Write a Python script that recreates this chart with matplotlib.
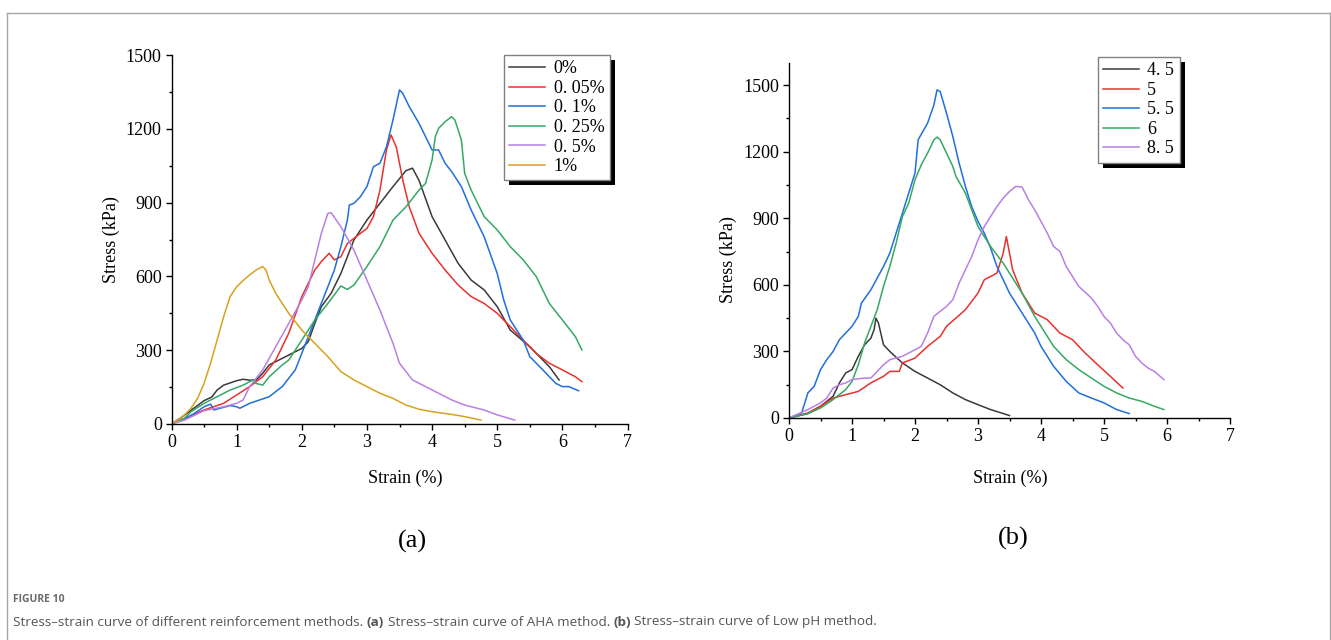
import numpy as np
import matplotlib
matplotlib.use("Agg")
import matplotlib.pyplot as plt
from matplotlib.ticker import MultipleLocator
from matplotlib.patches import Rectangle
from matplotlib.lines import Line2D
from matplotlib.transforms import IdentityTransform

# ---- data (a): AHA method ----
a_labels = ["0%", "0. 05%", "0. 1%", "0. 25%", "0. 5%", "1%"]
a_colors = ["#3a3a3a", "#e8322e", "#1f6fdc", "#35a865", "#b880e2", "#d6a21e"]

a0_x = [0, 0.17, 0.5, 0.62, 0.7, 0.8, 1.0, 1.1, 1.2, 1.3, 1.4, 1.5, 1.7, 2.0, 2.1, 2.2, 2.3, 2.45, 2.6, 2.8, 3.0, 3.2, 3.4, 3.6, 3.7,
        3.8, 4.0, 4.2, 4.4, 4.6, 4.8, 5.0, 5.2, 5.5, 5.8, 5.95]
a0_y = [0, 30, 95, 110, 138, 158, 176, 182, 178, 179, 206, 240, 267, 307, 335, 409, 477, 531, 612, 748, 829, 897, 965, 1030, 1040,
        990, 843, 748, 653, 585, 545, 477, 382, 314, 233, 179]

a1_x = [0, 0.5, 0.8, 1.0, 1.2, 1.4, 1.6, 1.8, 2.0, 2.2, 2.3, 2.42, 2.5, 2.6, 2.7, 2.9, 3.0, 3.1, 3.2, 3.3, 3.37, 3.45, 3.55, 3.65,
        3.8, 4.0, 4.2, 4.4, 4.6, 4.8, 5.0, 5.2, 5.4, 5.6, 5.8, 6.0, 6.2, 6.3]
a1_y = [0, 57, 84, 118, 152, 192, 260, 369, 518, 626, 660, 694, 667, 680, 734, 775, 795, 843, 951, 1114, 1175, 1127, 992, 883,
        775, 694, 626, 565, 518, 490, 450, 396, 341, 287, 247, 220, 192, 172]

a2_x = [0, 0.2, 0.35, 0.5, 0.6, 0.65, 0.9, 1.0, 1.05, 1.2, 1.5, 1.7, 1.9, 2.0, 2.2, 2.4, 2.5, 2.6, 2.7, 2.73, 2.8, 2.9, 3.0, 3.1,
        3.2, 3.3, 3.4, 3.5, 3.55, 3.65, 3.8, 3.9, 4.0, 4.1, 4.2, 4.3, 4.45, 4.6, 4.8, 5.0, 5.1, 5.2, 5.4, 5.5, 5.7, 5.9,
        6.0, 6.1, 6.25]
a2_y = [0, 20, 43, 70, 81, 57, 75, 70, 64, 84, 111, 152, 220, 287, 423, 558, 626, 721, 829, 890, 897, 924, 965, 1046,
        1060, 1127, 1236, 1358, 1344, 1290, 1222, 1168, 1114, 1114, 1060, 1026, 965, 870, 761, 612, 504, 423, 341, 274, 220, 165,
        152, 152, 135]

a3_x = [0, 0.2, 0.3, 0.5, 0.7, 0.9, 1.1, 1.25, 1.3, 1.4, 1.5, 1.7, 1.8, 2.0, 2.2, 2.4, 2.6, 2.7, 2.8, 3.0, 3.2, 3.4, 3.6, 3.8,
        3.9, 4.0, 4.05, 4.1, 4.2, 4.3, 4.35, 4.45, 4.5, 4.6, 4.8, 5.0, 5.2, 5.4, 5.6, 5.8, 6.0, 6.2, 6.3]
a3_y = [0, 23, 50, 84, 111, 138, 158, 179, 165, 158, 192, 240, 260, 341, 423, 490, 561, 547, 565, 640, 721, 829, 883, 951,
        978, 1073, 1168, 1202, 1229, 1249, 1236, 1155, 1019, 951, 843, 789, 721, 667, 599, 490, 423, 355, 301]

a4_x = [0, 0.2, 0.5, 0.8, 1.0, 1.1, 1.2, 1.4, 1.6, 1.8, 2.0, 2.1, 2.2, 2.3, 2.4, 2.45, 2.6, 2.8, 3.0, 3.2, 3.4, 3.5, 3.7,
        3.9, 4.1, 4.3, 4.5, 4.8, 5.0, 5.27]
a4_y = [0, 16, 54, 70, 84, 98, 152, 220, 314, 409, 504, 558, 667, 775, 856, 859, 802, 707, 585, 463, 328, 247, 179,
        152, 125, 98, 77, 57, 37, 16]

a5_x = [0, 0.1, 0.2, 0.3, 0.4, 0.5, 0.6, 0.7, 0.8, 0.9, 1.0, 1.1, 1.2, 1.3, 1.4, 1.45, 1.5, 1.6, 1.7, 1.8, 2.0, 2.2, 2.4,
        2.6, 2.8, 3.0, 3.2, 3.4, 3.6, 3.8, 4.0, 4.3, 4.5, 4.75]
a5_y = [0, 16, 37, 64, 104, 165, 247, 341, 436, 518, 558, 583, 606, 626, 640, 626, 585, 531, 490, 450, 382, 328, 274,
        213, 179, 152, 125, 104, 77, 60, 50, 39, 30, 16]

# ---- data (b): Low pH method ----
b_labels = ["4. 5", "5", "5. 5", "6", "8. 5"]
b_colors = ["#3a3a3a", "#e8322e", "#1f6fdc", "#35a865", "#b880e2"]

b0_x = [0, 0.3, 0.5, 0.7, 0.8, 0.9, 1.0, 1.1, 1.2, 1.3, 1.35, 1.38, 1.42, 1.5, 1.6, 1.8, 2.0, 2.2, 2.4, 2.6, 2.8, 3.0, 3.2, 3.5]
b0_y = [0, 20, 53, 98, 158, 203, 218, 278, 330, 360, 398, 450, 428, 330, 300, 248, 210, 180, 150, 113, 83, 60, 38, 11]

b1_x = [0, 0.3, 0.5, 0.7, 0.9, 1.1, 1.3, 1.5, 1.6, 1.75, 1.8, 2.0, 2.2, 2.4, 2.5, 2.8, 3.0, 3.1, 3.3, 3.4, 3.45, 3.5, 3.55,
        3.7, 3.9, 4.1, 4.3, 4.5, 4.7, 4.9, 5.1, 5.3]
b1_y = [0, 23, 53, 90, 105, 120, 158, 188, 210, 210, 248, 270, 323, 368, 413, 488, 563, 623, 653, 743, 818, 743, 668,
        563, 473, 443, 383, 353, 293, 240, 188, 135]

b2_x = [0, 0.2, 0.25, 0.3, 0.4, 0.5, 0.6, 0.7, 0.8, 1.0, 1.1, 1.15, 1.3, 1.5, 1.6, 1.8, 2.0, 2.05, 2.2, 2.3, 2.35, 2.4, 2.5,
        2.6, 2.7, 2.8, 2.9, 3.0, 3.1, 3.2, 3.3, 3.4, 3.5, 3.6, 3.8, 3.9, 4.0, 4.2, 4.4, 4.6, 4.8, 5.0, 5.2, 5.4]
b2_y = [0, 23, 68, 113, 143, 218, 263, 300, 353, 413, 458, 518, 578, 683, 743, 923, 1104, 1254, 1329, 1411, 1479, 1471, 1374,
        1269, 1149, 1044, 953, 886, 833, 766, 683, 623, 563, 518, 428, 383, 323, 233, 165, 113, 90, 68, 38, 20]

b3_x = [0, 0.3, 0.5, 0.7, 0.9, 1.0, 1.1, 1.2, 1.3, 1.4, 1.5, 1.6, 1.7, 1.8, 1.9, 2.0, 2.1, 2.2, 2.3, 2.35, 2.4, 2.5, 2.6,
        2.65, 2.8, 3.0, 3.2, 3.4, 3.5, 3.7, 3.9, 4.0, 4.2, 4.4, 4.6, 4.8, 5.0, 5.2, 5.4, 5.6, 5.8, 5.95]
b3_y = [0, 20, 45, 83, 128, 165, 240, 338, 413, 488, 593, 683, 788, 908, 968, 1074, 1141, 1194, 1254, 1266, 1254, 1194, 1134,
        1089, 1014, 863, 773, 698, 653, 563, 458, 413, 323, 263, 218, 180, 143, 113, 90, 75, 53, 38]

b4_x = [0, 0.3, 0.5, 0.6, 0.7, 0.8, 0.9, 1.0, 1.2, 1.3, 1.4, 1.5, 1.6, 1.8, 2.0, 2.1, 2.2, 2.3, 2.4, 2.5, 2.6, 2.7, 2.8,
        2.9, 3.0, 3.1, 3.2, 3.3, 3.4, 3.5, 3.6, 3.7, 3.8, 3.9, 4.0, 4.1, 4.2, 4.3, 4.4, 4.5, 4.6, 4.8, 4.9, 5.0, 5.1,
        5.2, 5.3, 5.4, 5.5, 5.6, 5.7, 5.8, 5.95]
b4_y = [0, 38, 68, 90, 135, 150, 158, 173, 180, 180, 210, 240, 263, 278, 308, 323, 383, 458, 481, 503, 533, 608, 668,
        728, 803, 863, 908, 953, 991, 1021, 1044, 1041, 984, 938, 886, 833, 773, 751, 683, 638, 593, 541, 503, 458, 428,
        383, 353, 330, 278, 248, 225, 210, 173]

a_series = [(a0_x, a0_y), (a1_x, a1_y), (a2_x, a2_y), (a3_x, a3_y), (a4_x, a4_y), (a5_x, a5_y)]
b_series = [(b0_x, b0_y), (b1_x, b1_y), (b2_x, b2_y), (b3_x, b3_y), (b4_x, b4_y)]

serif = ["Liberation Serif", "DejaVu Serif"]
plt.rcParams["font.family"] = serif
plt.rcParams["axes.linewidth"] = 1.0

W, H = 1331, 640
fig = plt.figure(figsize=(W / 100, H / 100), dpi=100)


def px_axes(x0, x1, y0, y1):
    # pixel box (left, right, bottom-y, top-y) -> figure fraction
    return [x0 / W, 1 - y0 / H, (x1 - x0) / W, (y0 - y1) / H]


ax_a = fig.add_axes(px_axes(171.5, 627.5, 424, 55))
ax_b = fig.add_axes(px_axes(789, 1230, 418, 63))


def style(ax, ymax):
    ax.set_xlim(0, 7)
    ax.set_ylim(0, ymax)
    ax.patch.set_visible(False)
    for s in ["top", "right"]:
        ax.spines[s].set_visible(False)
    ax.xaxis.set_major_locator(MultipleLocator(1))
    ax.xaxis.set_minor_locator(MultipleLocator(0.5))
    ax.yaxis.set_major_locator(MultipleLocator(300))
    ax.yaxis.set_minor_locator(MultipleLocator(150))
    ax.tick_params(which="major", direction="out", length=4, width=1, labelsize=13, pad=3)
    ax.tick_params(which="minor", direction="out", length=2.5, width=1)
    ax.set_xlabel("Strain (%)", fontsize=13)
    ax.set_ylabel("Stress (kPa)", fontsize=13)


style(ax_a, 1500)
style(ax_b, 1600)

for (x, y), c, lab in zip(a_series, a_colors, a_labels):
    ax_a.plot(x, y, color=c, lw=1.1, label=lab)
for (x, y), c, lab in zip(b_series, b_colors, b_labels):
    ax_b.plot(x, y, color=c, lw=1.1, label=lab)

ax_a.xaxis.set_label_coords(0.512, -0.125)
ax_a.yaxis.set_label_coords(-0.113, 0.5)
ax_b.xaxis.set_label_coords(0.501, -0.146)
ax_b.yaxis.set_label_coords(-0.118, 0.445)

leg_kw = dict(loc="upper left", borderaxespad=0, fancybox=False, framealpha=1, edgecolor="#808080",
              handlelength=2.0, handletextpad=0.45, labelspacing=0.14, borderpad=0.3, prop={"family": serif, "size": 13})
leg_a = ax_a.legend(bbox_to_anchor=(0.729, 1.0), **leg_kw)
leg_b = ax_b.legend(bbox_to_anchor=(0.70, 1.017), **leg_kw)
for lg in (leg_a, leg_b):
    lg.get_frame().set_linewidth(1.0)
    lg.set_zorder(6)

fig.text(412 / W, 1 - 541 / H, "(a)", fontsize=19, ha="center", va="center")
fig.text(1013 / W, 1 - 538 / H, "(b)", fontsize=19, ha="center", va="center")

# outer frame
fc = "#a6a6a6"
fig.add_artist(Line2D([7 / W, 1330 / W], [1 - 12.5 / H, 1 - 12.5 / H], color=fc, lw=1))
fig.add_artist(Line2D([7 / W, 7 / W], [1 - 12.5 / H, 0], color=fc, lw=1))
fig.add_artist(Line2D([1330 / W, 1330 / W], [1 - 12.5 / H, 0], color=fc, lw=1))

fig.canvas.draw()
renderer = fig.canvas.get_renderer()

# legend shadows (solid black, offset down-right)
for ax, lg in ((ax_a, leg_a), (ax_b, leg_b)):
    bb = lg.get_window_extent(renderer)
    sh = Rectangle((bb.x0 + 5, bb.y0 - 5), bb.width, bb.height, transform=IdentityTransform(),
                   facecolor="black", edgecolor="none", zorder=5.5, clip_on=False)
    ax.add_artist(sh)

# caption
cap_font = ["Open Sans", "DejaVu Sans"]
fig.text(13 / W, 1 - 600 / H, "FIGURE 10", fontsize=7.5, fontweight="bold", color="#6a6a6a",
         family=cap_font, va="center", ha="left")

segments = [("Stress–strain curve of different reinforcement methods.", "normal"),
            ("(a)", "bold"),
            ("Stress–strain curve of AHA method.", "normal"),
            ("(b)", "bold"),
            ("Stress–strain curve of Low pH method.", "normal")]
cap_size = 9.7
t1 = fig.text(0, 0, "a a", fontsize=cap_size, family=cap_font)
t2 = fig.text(0, 0, "aa", fontsize=cap_size, family=cap_font)
space = t1.get_window_extent(renderer).width - t2.get_window_extent(renderer).width
t1.remove()
t2.remove()

x = 13.0
for s, wgt in segments:
    t = fig.text(x / W, 1 - 622 / H, s, fontsize=cap_size, fontweight=wgt, color="#555555",
                 family=cap_font, va="center", ha="left")
    x += t.get_window_extent(renderer).width + space

fig.savefig("out.png", dpi=100)
